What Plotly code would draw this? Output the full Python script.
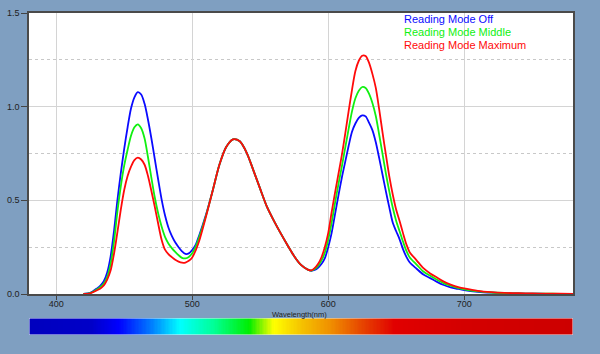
import plotly.graph_objects as go
import numpy as np

# ---------------- data ----------------
wavelength = [420, 425, 430,
              432.5, 435, 437.5, 440, 442.5, 445, 447.5, 450, 452.5, 455,
              457.5, 460, 462.5, 465, 467.5, 470, 472.5, 475, 477.5, 480,
              482.5, 485, 487.5, 490, 492.5, 495, 497.5, 500, 502.5, 505,
              510, 515, 520, 525, 530, 535, 540, 545, 550, 555, 560, 565, 570, 575, 580, 585,
              587.5, 590, 592.5, 595, 597.5, 600, 602.5, 605, 607.5, 610,
              612.5, 615, 617.5, 620, 622.5, 625, 627.5, 630, 632.5, 635,
              637.5, 640, 642.5, 645, 647.5, 650, 652.5, 655, 657.5, 660,
              665, 670, 675, 680, 685, 690, 695, 700,
              710, 720, 730, 740, 750, 760, 770, 780]

mode_off = [0.0, 0.006, 0.03,
            0.045, 0.068, 0.115, 0.2, 0.335, 0.5, 0.645, 0.775, 0.89, 0.99,
            1.05, 1.078, 1.065, 1.015, 0.93, 0.83, 0.72, 0.61, 0.505, 0.42,
            0.355, 0.31, 0.276, 0.25, 0.228, 0.214, 0.217, 0.235, 0.262, 0.31,
            0.42, 0.55, 0.69, 0.785, 0.826, 0.815, 0.755, 0.66, 0.561, 0.465, 0.392, 0.325, 0.262, 0.202, 0.155, 0.13,
            0.124, 0.128, 0.14, 0.16, 0.19, 0.25, 0.325, 0.425, 0.525, 0.62,
            0.705, 0.79, 0.866, 0.91, 0.94, 0.953, 0.948, 0.915, 0.875, 0.81,
            0.725, 0.635, 0.545, 0.46, 0.38, 0.335, 0.292, 0.24, 0.198, 0.168,
            0.135, 0.104, 0.085, 0.065, 0.048, 0.036, 0.028, 0.021,
            0.012, 0.007, 0.004, 0.003, 0.002, 0.001, 0.001, 0.0]

mode_middle = [0.0, 0.005, 0.025,
               0.038, 0.056, 0.09, 0.16, 0.28, 0.44, 0.575, 0.685, 0.77, 0.845,
               0.89, 0.906, 0.885, 0.83, 0.73, 0.62, 0.515, 0.43, 0.36, 0.305,
               0.27, 0.245, 0.225, 0.207, 0.193, 0.19, 0.198, 0.218, 0.252, 0.30,
               0.415, 0.55, 0.69, 0.785, 0.826, 0.815, 0.755, 0.66, 0.561, 0.465, 0.392, 0.325, 0.262, 0.202, 0.155, 0.13,
               0.125, 0.133, 0.15, 0.178, 0.22, 0.29, 0.38, 0.485, 0.585, 0.68,
               0.78, 0.88, 0.975, 1.045, 1.085, 1.105, 1.10, 1.07, 1.02, 0.95,
               0.85, 0.745, 0.64, 0.545, 0.46, 0.39, 0.335, 0.28, 0.23, 0.195,
               0.157, 0.12, 0.097, 0.076, 0.057, 0.044, 0.033, 0.025,
               0.014, 0.008, 0.005, 0.003, 0.002, 0.002, 0.001, 0.001]

mode_maximum = [0.0, 0.004, 0.02,
                0.03, 0.046, 0.077, 0.125, 0.215, 0.33, 0.45, 0.555, 0.63, 0.68,
                0.715, 0.728, 0.718, 0.69, 0.63, 0.55, 0.465, 0.375, 0.29, 0.237,
                0.213, 0.197, 0.183, 0.173, 0.167, 0.168, 0.177, 0.195, 0.232, 0.28,
                0.41, 0.55, 0.69, 0.785, 0.826, 0.815, 0.755, 0.66, 0.561, 0.465, 0.392, 0.325, 0.262, 0.202, 0.155, 0.13,
                0.126, 0.138, 0.16, 0.195, 0.25, 0.325, 0.435, 0.54, 0.64, 0.74,
                0.855, 0.975, 1.09, 1.19, 1.245, 1.272, 1.27, 1.235, 1.175, 1.10,
                0.985, 0.86, 0.74, 0.625, 0.53, 0.45, 0.39, 0.325, 0.265, 0.222,
                0.18, 0.138, 0.11, 0.088, 0.066, 0.05, 0.038, 0.03,
                0.017, 0.01, 0.006, 0.004, 0.003, 0.002, 0.002, 0.001]

series_names = ["Reading Mode Off", "Reading Mode Middle", "Reading Mode Maximum"]
series_colors = ["#0a0aff", "#10f010", "#ff0a0a"]

x_ticks = [400, 500, 600, 700]
x_tick_labels = ["400", "500", "600", "700"]
y_ticks = [0.0, 0.5, 1.0, 1.5]
y_tick_labels = ["0.0", "0.5", "1.0", "1.5"]

# spectrum bar colour stops (wavelength, colour)
spectrum_wl = [380, 426, 446, 471, 491, 516, 542, 552, 560, 580, 601, 626, 649, 700, 780]
spectrum_col = ["rgb(0,0,190)", "rgb(0,0,200)", "rgb(0,0,255)", "rgb(0,130,255)", "rgb(0,255,255)",
                "rgb(0,255,150)", "rgb(0,238,0)", "rgb(150,245,0)", "rgb(255,255,0)", "rgb(245,195,0)",
                "rgb(240,145,0)", "rgb(230,65,0)", "rgb(225,0,0)", "rgb(212,0,0)", "rgb(205,0,0)"]

x_range = [380, 780]

# ---------------- figure ----------------
fig = go.Figure()

for name, vals, col in zip(series_names, [mode_off, mode_middle, mode_maximum], series_colors):
    fig.add_trace(go.Scatter(x=wavelength, y=vals, mode="lines", name=name,
                             line=dict(color=col, width=1.8, shape="spline", smoothing=0.8),
                             xaxis="x", yaxis="y", showlegend=False))

# spectrum bar
lo, hi = spectrum_wl[0], spectrum_wl[-1]
cs = [[(w - lo) / (hi - lo), c] for w, c in zip(spectrum_wl, spectrum_col)]
edges = np.arange(x_range[0], x_range[1] + 1, 1.0)
centers = (edges[:-1] + edges[1:]) / 2
fig.add_trace(go.Heatmap(x=edges, y=[0, 1], z=[list(centers)], colorscale=cs,
                         zmin=lo, zmax=hi, showscale=False, hoverinfo="skip",
                         xaxis="x2", yaxis="y2"))

main_dom = [0.1273, 1.0]
bar_dom = [0.0, 0.0528]

fig.update_layout(
    width=600, height=354,
    margin=dict(l=29, r=27, t=13, b=19, autoexpand=False),
    paper_bgcolor="#7f9fc1",
    plot_bgcolor="#ffffff",
    font=dict(family="Liberation Sans, Arial, sans-serif", size=9, color="#222222"),
    xaxis=dict(range=x_range, domain=[0, 1], anchor="y", automargin=False,
               tickvals=x_ticks, ticktext=x_tick_labels, ticks="outside", ticklen=4,
               ticklabelstandoff=-4,
               tickcolor="#444", showgrid=True, gridcolor="#d4d4d4", gridwidth=1,
               showline=True, linecolor="#4a4a4a", linewidth=1.5, mirror=True,
               zeroline=False, tickfont=dict(size=9, color="#222")),
    yaxis=dict(range=[0, 1.5], domain=main_dom, anchor="x", automargin=False,
               tickvals=y_ticks, ticktext=y_tick_labels, ticks="outside", ticklen=6,
               tickcolor="#444", showgrid=True, gridcolor="#d4d4d4", gridwidth=1,
               showline=True, linecolor="#4a4a4a", linewidth=1.5, mirror=True,
               zeroline=False, tickfont=dict(size=9, color="#222"),
               minor=dict(dtick=0.25, tick0=0, showgrid=True, griddash="dot",
                          gridcolor="#c8c8c8", gridwidth=1, ticks="")),
    xaxis2=dict(range=x_range, domain=[0, 1], anchor="y2", visible=False, automargin=False),
    yaxis2=dict(range=[0, 1], domain=bar_dom, anchor="x2", visible=False, automargin=False),
    showlegend=False,
)

# bar border
fig.add_shape(type="rect", xref="x2", yref="y2", x0=x_range[0], x1=x_range[1], y0=0, y1=1,
              line=dict(color="#e4ecf4", width=1), fillcolor="rgba(0,0,0,0)")

# axis title
fig.add_annotation(text="Wavelength(nm)", xref="paper", yref="paper", x=0.497, y=0.0637,
                   showarrow=False, yanchor="middle",
                   font=dict(size=7.5, color="#222",
                             family="Liberation Sans Narrow, Liberation Sans, Arial, sans-serif"))

# legend as coloured texts
for i, (name, col) in enumerate(zip(series_names, series_colors)):
    fig.add_annotation(text=name, xref="paper", yref="paper", x=0.686, y=0.981 - i * 0.0405,
                       xanchor="left", yanchor="middle", showarrow=False,
                       font=dict(size=11, color=col))

fig.write_html("out.html", config={"displayModeBar": False})
